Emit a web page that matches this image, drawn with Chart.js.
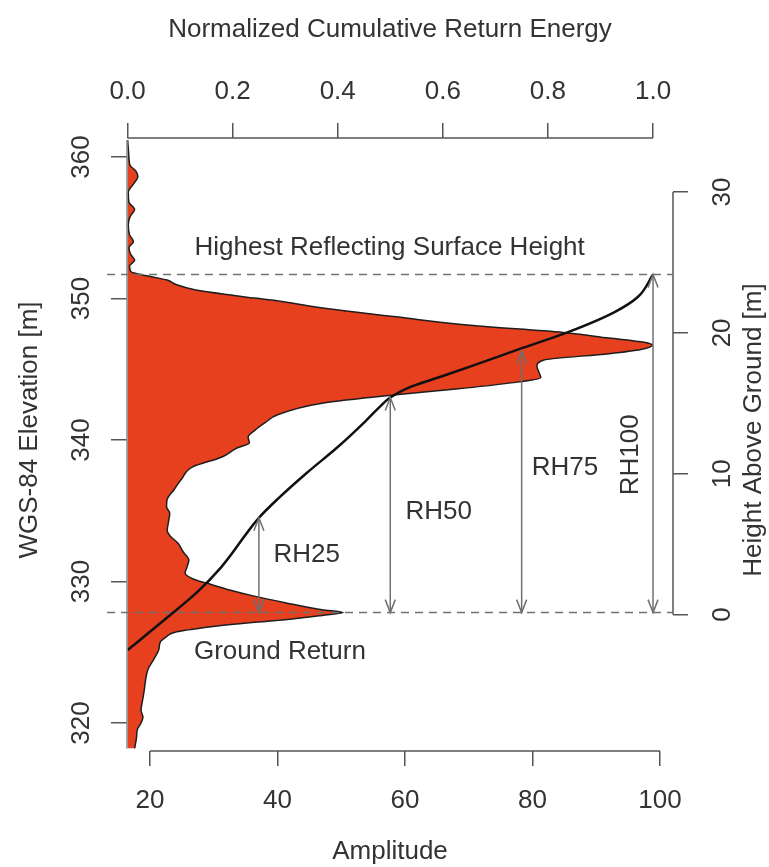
<!DOCTYPE html>
<html>
<head>
<meta charset="utf-8">
<script src="https://cdn.jsdelivr.net/npm/chart.js@4.4.1/dist/chart.umd.min.js"></script>
<style>
    body { margin: 0; background: #fff; }
    canvas { display: block; }
</style>
</head>
<body>
<canvas id="waveformChart" width="769" height="867"></canvas>
<script>
// Waveform: elevation [m] (bottom to top) and return amplitude
const waveElevation = [
    318.2, 319.0, 319.5, 320.0, 320.4, 320.9, 321.5, 322.3, 323.0, 323.8,
    324.5, 325.2, 325.7, 326.1, 326.4, 326.8, 327.1, 327.3, 327.6, 327.8,
    328.0, 328.5, 329.0, 329.4, 329.8, 330.1, 330.6, 331.0, 331.5, 332.1,
    332.7, 333.2, 333.6, 334.2, 334.8, 335.3, 335.8, 336.5, 337.2, 338.1,
    338.8, 339.4, 339.8, 340.2, 340.7, 341.2, 341.8, 342.6, 343.2, 343.6,
    344.0, 344.4, 344.8, 345.2, 345.65, 346.1, 346.4, 346.7, 346.9, 347.2,
    347.6, 348.1, 348.7, 349.0, 349.4, 349.75, 350.2, 350.6, 351.0, 351.3,
    351.6, 351.9, 352.3, 352.7, 353.1, 353.6, 354.0, 354.5, 355.2, 355.8,
    356.3, 356.8, 357.5, 358.2, 358.6, 359.0, 359.4, 360.0, 360.6, 361.2
];
const waveAmplitude = [
    17.6, 17.9, 18.0, 18.6, 18.9, 18.6, 18.8, 19.1, 19.3, 19.7,
    20.6, 21.4, 21.6, 22.6, 23.8, 29.6, 36.0, 41.2, 47.0, 50.3,
    47.0, 41.2, 36.0, 32.5, 29.5, 27.2, 25.5, 25.8, 26.1, 25.2,
    24.4, 23.2, 22.7, 22.9, 23.1, 22.6, 22.7, 23.8, 24.9, 26.7,
    31.3, 33.5, 35.6, 35.4, 36.5, 38.0, 40.1, 47.0, 58.6, 68.0,
    76.0, 81.3, 81.0, 80.7, 81.8, 92.0, 97.0, 98.8, 97.5, 92.0,
    84.8, 70.2, 58.6, 52.8, 46.0, 41.2, 33.5, 27.2, 24.0, 22.7,
    19.5, 17.0, 16.8, 17.6, 17.0, 16.7, 17.4, 16.8, 16.6, 16.9,
    17.6, 16.7, 16.6, 17.6, 18.1, 17.8, 16.9, 16.7, 16.6, 16.5
];
const baselineAmplitude = 16.5;

// Normalized cumulative return energy vs elevation
const cumElevation = [
    325.15, 327.1, 329.3, 331.0, 334.5, 335.8, 337.7, 339.5, 341.3, 342.2,
    343.0, 343.7, 344.4, 345.2, 346.4, 347.6, 349.0, 350.1, 351.7
];
const cumEnergy = [
    0.0, 0.064, 0.134, 0.178, 0.25, 0.285, 0.342, 0.40, 0.452, 0.476,
    0.50, 0.535, 0.59, 0.653, 0.744, 0.837, 0.925, 0.971, 1.0
];

// Relative height metrics
const rhNames = ['RH25', 'RH50', 'RH75', 'RH100'];
const rhEnergy = [0.25, 0.5, 0.75, 1.0];
const rhElevation = [334.5, 343.0, 346.3, 351.7];
const groundElevation = 327.8;
const topElevation = 351.7;

// Tick labels
const amplitudeTicks = [20, 40, 60, 80, 100];
const energyTicks = [0.0, 0.2, 0.4, 0.6, 0.8, 1.0];
const elevationTicks = [320, 330, 340, 350, 360];
const heightTicks = [0, 10, 20, 30];

// Where the text annotations sit, in amplitude / elevation units
const rhLabelAmplitude = [44.6, 65.3, 85.1, 95.5];
const rhLabelElevation = [331.9, 334.9, 338.0, 338.95];

const fontFamily = "'Liberation Sans', Arial, Helvetica, sans-serif";
const textColor = '#333333';
const axisColor = '#555555';
const refColor = '#707070';
const tickFont = { family: fontFamily, size: 26 };

const elevMin = 318.02;
const elevMax = 361.34;

function setTicks(values) {
    return scale => { scale.ticks = values.map(v => ({ value: v })); };
}

function strokeLine(ctx, x0, y0, x1, y1) {
    ctx.beginPath();
    ctx.moveTo(x0, y0);
    ctx.lineTo(x1, y1);
    ctx.stroke();
}

// Open arrow head; dir = -1 points up, 1 points down
function arrowHead(ctx, px, py, dir) {
    ctx.beginPath();
    ctx.moveTo(px - 5, py - dir * 13);
    ctx.lineTo(px, py);
    ctx.lineTo(px + 5, py - dir * 13);
    ctx.stroke();
}

function rotatedText(ctx, text, px, py) {
    ctx.save();
    ctx.translate(px, py);
    ctx.rotate(-Math.PI / 2);
    ctx.fillText(text, 0, 0);
    ctx.restore();
}

const overlayPlugin = {
    id: 'overlay',
    afterDraw(chart) {
        const { ctx, chartArea, scales } = chart;
        const { x, x2, y, y2 } = scales;
        ctx.save();

        // R style axis lines that only span the tick range
        ctx.strokeStyle = axisColor;
        ctx.lineWidth = 1.5;
        strokeLine(ctx, x.getPixelForValue(amplitudeTicks[0]), chartArea.bottom,
            x.getPixelForValue(amplitudeTicks[amplitudeTicks.length - 1]), chartArea.bottom);
        strokeLine(ctx, x2.getPixelForValue(energyTicks[0]), chartArea.top,
            x2.getPixelForValue(energyTicks[energyTicks.length - 1]), chartArea.top);
        strokeLine(ctx, chartArea.right, y2.getPixelForValue(heightTicks[0]),
            chartArea.right, y2.getPixelForValue(heightTicks[heightTicks.length - 1]));
        ctx.strokeStyle = '#888888';
        strokeLine(ctx, chartArea.left, y.getPixelForValue(waveElevation[0]),
            chartArea.left, y.getPixelForValue(waveElevation[waveElevation.length - 1]));

        // Dashed reference lines: ground and highest reflecting surface
        ctx.strokeStyle = refColor;
        ctx.lineWidth = 1.5;
        ctx.setLineDash([8, 6]);
        [groundElevation, topElevation].forEach(e => {
            const py = y.getPixelForValue(e);
            strokeLine(ctx, chartArea.left - 20, py, chartArea.right, py);
        });
        ctx.setLineDash([]);

        // RH arrows
        const gy = y.getPixelForValue(groundElevation);
        rhEnergy.forEach((en, i) => {
            const px = x2.getPixelForValue(en);
            const ty = y.getPixelForValue(rhElevation[i]);
            ctx.strokeStyle = refColor;
            ctx.lineWidth = 1.5;
            strokeLine(ctx, px, gy, px, ty);
            arrowHead(ctx, px, ty, -1);
            arrowHead(ctx, px, gy, 1);
        });

        // Text annotations
        ctx.fillStyle = textColor;
        ctx.font = '26px ' + fontFamily;
        ctx.textBaseline = 'middle';
        ctx.textAlign = 'center';
        ctx.fillText('Highest Reflecting Surface Height',
            x.getPixelForValue(57.6), y.getPixelForValue(353.6));
        ctx.textAlign = 'left';
        ctx.fillText('Ground Return', x.getPixelForValue(26.9), y.getPixelForValue(325.0));
        ctx.textAlign = 'center';
        rhNames.forEach((name, i) => {
            const px = x.getPixelForValue(rhLabelAmplitude[i]);
            const py = y.getPixelForValue(rhLabelElevation[i]);
            if (name === 'RH100') {
                rotatedText(ctx, name, px, py);
            } else {
                ctx.fillText(name, px, py);
            }
        });

        // Axis titles, centred on the plot region like R's mtext
        const titleX = (chartArea.left - 20 + chartArea.right) / 2;
        const sideTitleY = 430;
        ctx.fillText('Normalized Cumulative Return Energy', titleX, 30);
        ctx.fillText('Amplitude', titleX, 852);
        rotatedText(ctx, 'WGS-84 Elevation [m]', 30, sideTitleY);
        rotatedText(ctx, 'Height Above Ground [m]', 754, sideTitleY);

        ctx.restore();
    }
};

const ctx = document.getElementById('waveformChart').getContext('2d');
new Chart(ctx, {
    type: 'line',
    data: {
        datasets: [
            {
                label: 'Cumulative Energy',
                data: cumElevation.map((e, i) => ({ x: cumEnergy[i], y: e })),
                xAxisID: 'x2',
                yAxisID: 'y',
                borderColor: '#111111',
                borderWidth: 2.5,
                pointRadius: 0,
                fill: false,
                cubicInterpolationMode: 'monotone',
                order: 0
            },
            {
                label: 'Waveform',
                data: waveElevation.map((e, i) => ({ x: waveAmplitude[i], y: e })),
                xAxisID: 'x',
                yAxisID: 'y',
                borderColor: '#1e1e1e',
                borderWidth: 1.5,
                backgroundColor: '#E6401F',
                pointRadius: 0,
                fill: { value: baselineAmplitude },
                cubicInterpolationMode: 'monotone',
                order: 1
            }
        ]
    },
    options: {
        responsive: false,
        animation: false,
        indexAxis: 'y',
        layout: { padding: 0 },
        plugins: {
            legend: { display: false },
            tooltip: { enabled: false }
        },
        scales: {
            x: {
                type: 'linear', axis: 'x', position: 'bottom',
                min: 16.4, max: 102.04,
                afterBuildTicks: setTicks(amplitudeTicks),
                afterFit: s => { s.height = 116; },
                grid: { drawOnChartArea: false, tickLength: 15, color: axisColor, lineWidth: 1.5 },
                border: { display: false },
                ticks: { font: tickFont, color: textColor, padding: 19, autoSkip: false, maxRotation: 0 }
            },
            x2: {
                type: 'linear', axis: 'x', position: 'top',
                min: -0.001, max: 1.038,
                afterBuildTicks: setTicks(energyTicks),
                afterFit: s => { s.height = 138; },
                grid: { drawOnChartArea: false, tickLength: 15, color: axisColor, lineWidth: 1.5 },
                border: { display: false },
                ticks: { font: tickFont, color: textColor, padding: 16, autoSkip: false, maxRotation: 0,
                    callback: v => v.toFixed(1) }
            },
            y: {
                type: 'linear', axis: 'y', position: 'left',
                min: elevMin, max: elevMax,
                afterBuildTicks: setTicks(elevationTicks),
                afterFit: s => { s.width = 127; },
                grid: { drawOnChartArea: false, tickLength: 16, color: axisColor, lineWidth: 1.5 },
                border: { display: false },
                ticks: { font: tickFont, color: textColor, padding: 7, autoSkip: false,
                    minRotation: 90, maxRotation: 90, crossAlign: 'center' }
            },
            y2: {
                type: 'linear', axis: 'y', position: 'right',
                min: -9.69, max: 33.84,
                afterBuildTicks: setTicks(heightTicks),
                afterFit: s => { s.width = 96; },
                grid: { drawOnChartArea: false, tickLength: 15, color: axisColor, lineWidth: 1.5 },
                border: { display: false },
                ticks: { font: tickFont, color: textColor, padding: 20, autoSkip: false,
                    minRotation: 90, maxRotation: 90, crossAlign: 'center' }
            }
        }
    },
    plugins: [overlayPlugin]
});
</script>
</body>
</html>
